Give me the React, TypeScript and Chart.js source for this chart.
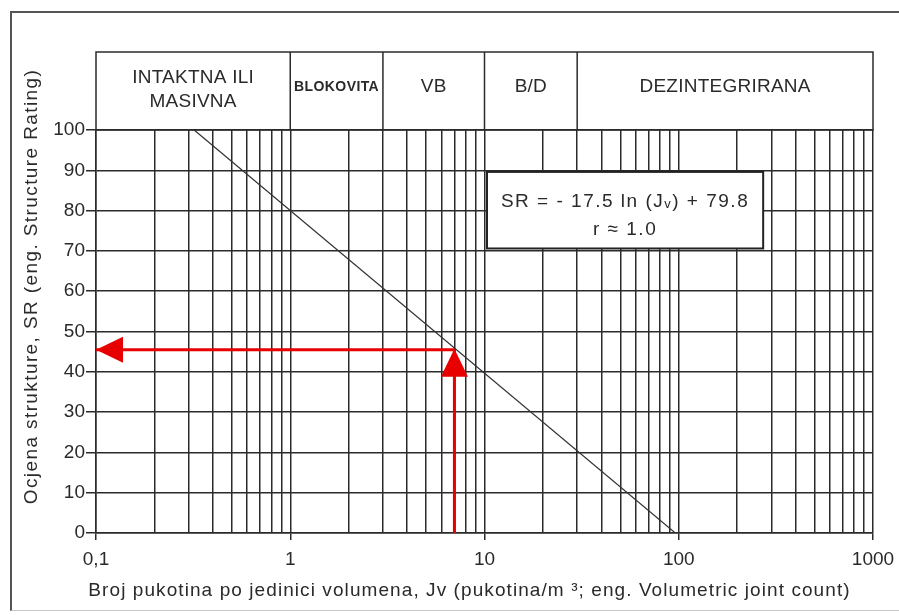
import React, { useEffect, useRef } from 'react';
import { Chart, registerables } from 'chart.js';

Chart.register(...registerables);

const FONT = '"Liberation Sans", Arial, Helvetica, sans-serif';
const INK = '#2a2a2a';
const GRID = '#2b2b2b';
const RED = '#e80000';

// ---- data ----
const zoneLabels: string[][] = [['INTAKTNA ILI', 'MASIVNA'], ['BLOKOVITA'], ['VB'], ['B/D'], ['DEZINTEGRIRANA']];
const zoneEdges = [0.1, 1, 3, 10, 30, 1000];
const decades = [0.1, 1, 10, 100];
const mantissas = [1, 2, 3, 4, 5, 6, 7, 8, 9];
const xMin = 0.1;
const xMax = 1000;
const xLabelValues = [0.1, 1, 10, 100, 1000];
const xLabelTexts = ['0,1', '1', '10', '100', '1000'];
const yTickValues = [0, 10, 20, 30, 40, 50, 60, 70, 80, 90, 100];
const yMin = 0;
const yRatingMax = 100;
const yBandTop = 119.35;
const lineJv = [0.32, 96];
const lineSR = [100, 0];
const arrowJv = [7, 7, 0.1];
const arrowSR = [0, 45.5, 45.5];
const boxJv = [10.3, 272];
const boxSR = [89.6, 70.6];
const formulaParts = ['SR = - 17.5 ln (J', 'v', ') + 79.8'];
const rText = 'r \u2248 1.0';
const xTitle = 'Broj pukotina po jedinici volumena, Jv (pukotina/m \u00b3; eng. Volumetric joint count)';
const yTitle = 'Ocjena strukture, SR (eng. Structure Rating)';

const xGridValues = decades
  .flatMap((d) => mantissas.map((m) => parseFloat((d * m).toPrecision(4))))
  .concat([xMax]);

const labelIndex = (v: number) => xLabelValues.findIndex((l) => Math.abs(l - v) / l < 1e-6);

// wrap a scale's title drawing with letter spacing and a small shift
function patchTitle(s: any, spacing: string, dx: number, dy: number) {
  if (s.__titlePatched) return;
  const orig = s.drawTitle;
  s.drawTitle = function (...args: any[]) {
    const c = this.ctx;
    c.save();
    c.letterSpacing = spacing;
    c.translate(dx, dy);
    orig.apply(this, args);
    c.restore();
  };
  s.__titlePatched = true;
}

const rmrPlugin = {
  id: 'rmrDecor',
  beforeDraw(chart: any) {
    chart.ctx.letterSpacing = '0px';
  },
  beforeDatasetsDraw(chart: any) {
    const { ctx } = chart;
    const x = chart.scales.x;
    const y = chart.scales.y;
    const top = y.getPixelForValue(yBandTop);
    const bottom = y.getPixelForValue(yRatingMax);
    const left = x.getPixelForValue(zoneEdges[0]);
    const right = x.getPixelForValue(zoneEdges[zoneEdges.length - 1]);
    ctx.save();
    // band background
    ctx.fillStyle = '#ffffff';
    ctx.fillRect(left - 1, top - 1, right - left + 2, bottom - top);
    ctx.strokeStyle = GRID;
    ctx.lineWidth = 1.5;
    ctx.strokeRect(left, top, right - left, bottom - top);
    ctx.beginPath();
    for (let i = 1; i < zoneEdges.length - 1; i++) {
      const px = x.getPixelForValue(zoneEdges[i]);
      ctx.moveTo(px, top);
      ctx.lineTo(px, bottom);
    }
    ctx.stroke();
    // zone labels
    ctx.fillStyle = INK;
    ctx.textAlign = 'center';
    ctx.textBaseline = 'middle';
    const mid = (top + bottom) / 2;
    zoneLabels.forEach((lines, i) => {
      const cx = (x.getPixelForValue(zoneEdges[i]) + x.getPixelForValue(zoneEdges[i + 1])) / 2;
      if (lines[0] === 'BLOKOVITA') {
        ctx.font = `bold 14px ${FONT}`;
        ctx.letterSpacing = '0.4px';
      } else {
        ctx.font = `19px ${FONT}`;
        ctx.letterSpacing = '0.25px';
      }
      if (lines.length === 1) {
        ctx.fillText(lines[0], cx, mid - 4);
      } else {
        const lh = 24;
        const y0 = mid - 1.5 - ((lines.length - 1) * lh) / 2;
        lines.forEach((t, k) => ctx.fillText(t, cx, y0 + k * lh));
      }
    });

    // formula box
    const bx1 = x.getPixelForValue(boxJv[0]);
    const bx2 = x.getPixelForValue(boxJv[1]);
    const by1 = y.getPixelForValue(boxSR[0]);
    const by2 = y.getPixelForValue(boxSR[1]);
    ctx.fillStyle = '#ffffff';
    ctx.fillRect(bx1, by1, bx2 - bx1, by2 - by1);
    ctx.strokeStyle = '#222';
    ctx.lineWidth = 2;
    ctx.strokeRect(bx1, by1, bx2 - bx1, by2 - by1);
    ctx.fillStyle = INK;
    ctx.textBaseline = 'alphabetic';
    ctx.textAlign = 'left';
    ctx.letterSpacing = '1.5px';
    const mainFont = `19px ${FONT}`;
    const subFont = `13px ${FONT}`;
    ctx.font = mainFont;
    const w0 = ctx.measureText(formulaParts[0]).width;
    const w2 = ctx.measureText(formulaParts[2]).width;
    ctx.font = subFont;
    const w1 = ctx.measureText(formulaParts[1]).width;
    const cx = (bx1 + bx2) / 2;
    const base1 = by1 + (by2 - by1) * 0.46;
    let sx = cx - (w0 + w1 + w2) / 2;
    ctx.font = mainFont;
    ctx.fillText(formulaParts[0], sx, base1);
    sx += w0;
    ctx.font = subFont;
    ctx.fillText(formulaParts[1], sx, base1 + 1);
    sx += w1;
    ctx.font = mainFont;
    ctx.fillText(formulaParts[2], sx, base1);
    ctx.textAlign = 'center';
    ctx.fillText(rText, cx, base1 + 28);
    ctx.restore();
  },
  afterDatasetsDraw(chart: any) {
    const { ctx } = chart;
    const pts = chart.getDatasetMeta(1).data;
    if (!pts || pts.length < 3) return;
    const corner = pts[1];
    const end = pts[2];
    ctx.save();
    ctx.fillStyle = RED;
    ctx.beginPath();
    ctx.moveTo(corner.x, corner.y - 1);
    ctx.lineTo(corner.x - 13.5, corner.y + 27);
    ctx.lineTo(corner.x + 13.5, corner.y + 27);
    ctx.closePath();
    ctx.fill();
    ctx.beginPath();
    ctx.moveTo(end.x, end.y);
    ctx.lineTo(end.x + 27, end.y - 13);
    ctx.lineTo(end.x + 27, end.y + 13);
    ctx.closePath();
    ctx.fill();
    ctx.restore();
  },
};

export default function App() {
  const ref = useRef<HTMLCanvasElement | null>(null);

  useEffect(() => {
    if (!ref.current) return;
    const font = { family: FONT, size: 19 };
    const chart = new Chart(ref.current, {
      type: 'scatter',
      data: {
        datasets: [
          {
            label: 'SR',
            data: lineJv.map((v, i) => ({ x: v, y: lineSR[i] })),
            showLine: true,
            borderColor: '#333',
            borderWidth: 1.2,
            pointRadius: 0,
          },
          {
            label: 'primjer',
            data: arrowJv.map((v, i) => ({ x: v, y: arrowSR[i] })),
            showLine: true,
            borderColor: RED,
            borderWidth: 3,
            pointRadius: 0,
            borderJoinStyle: 'miter',
          },
        ],
      },
      options: {
        animation: false,
        responsive: false,
        devicePixelRatio: 1,
        events: [],
        layout: { padding: { top: 52, right: 26, bottom: 0, left: 0 } },
        plugins: { legend: { display: false }, tooltip: { enabled: false }, title: { display: false } },
        scales: {
          x: {
            type: 'logarithmic',
            min: xMin,
            max: xMax,
            afterBuildTicks: (s: any) => {
              s.ticks = xGridValues.map((v) => ({ value: v, major: false }));
            },
            afterFit: (s: any) => {
              s.height = 82;
              s.paddingLeft = 0;
              s.paddingRight = 0;
              patchTitle(s, '1.08px', -15, 0);
            },
            grid: {
              color: GRID,
              lineWidth: 1.5,
              tickLength: 7,
              tickColor: (c: any) => (c.tick && labelIndex(c.tick.value) >= 0 ? GRID : 'rgba(0,0,0,0)'),
            },
            border: { color: GRID, width: 1.5 },
            ticks: {
              autoSkip: false,
              maxRotation: 0,
              minRotation: 0,
              padding: 8,
              color: INK,
              font,
              callback: (v: any) => {
                const i = labelIndex(Number(v));
                return i >= 0 ? xLabelTexts[i] : '';
              },
            },
            title: { display: true, text: xTitle, color: INK, font, padding: { top: 0, bottom: 13 } },
          },
          y: {
            type: 'linear',
            min: yMin,
            max: yBandTop,
            afterBuildTicks: (s: any) => {
              s.ticks = yTickValues.map((v) => ({ value: v }));
            },
            afterFit: (s: any) => {
              s.width = 96;
              s.paddingTop = 0;
              s.paddingBottom = 0;
              patchTitle(s, '1.4px', 0, -6);
            },
            grid: { color: GRID, lineWidth: 1.5, tickLength: 10, tickColor: GRID },
            border: { color: GRID, width: 1.5 },
            ticks: { padding: 1, color: INK, font, callback: (v: any) => String(v) },
            title: { display: true, text: yTitle, color: INK, font, padding: { top: 20, bottom: 0 } },
          },
        },
      },
      plugins: [rmrPlugin],
    } as any);
    return () => chart.destroy();
  }, []);

  return (
    <div style={{ position: 'absolute', left: 0, top: 0, width: 899, height: 615, background: '#fff' }}>
      <div
        style={{
          position: 'absolute',
          left: 10,
          top: 11,
          width: 889,
          height: 600,
          boxSizing: 'border-box',
          borderTop: '2px solid #555',
          borderLeft: '2px solid #555',
          borderBottom: '1px solid #c8c8c8',
        }}
      />
      <canvas ref={ref} width={899} height={615} style={{ position: 'absolute', left: 0, top: 0, display: 'block' }} />
    </div>
  );
}
